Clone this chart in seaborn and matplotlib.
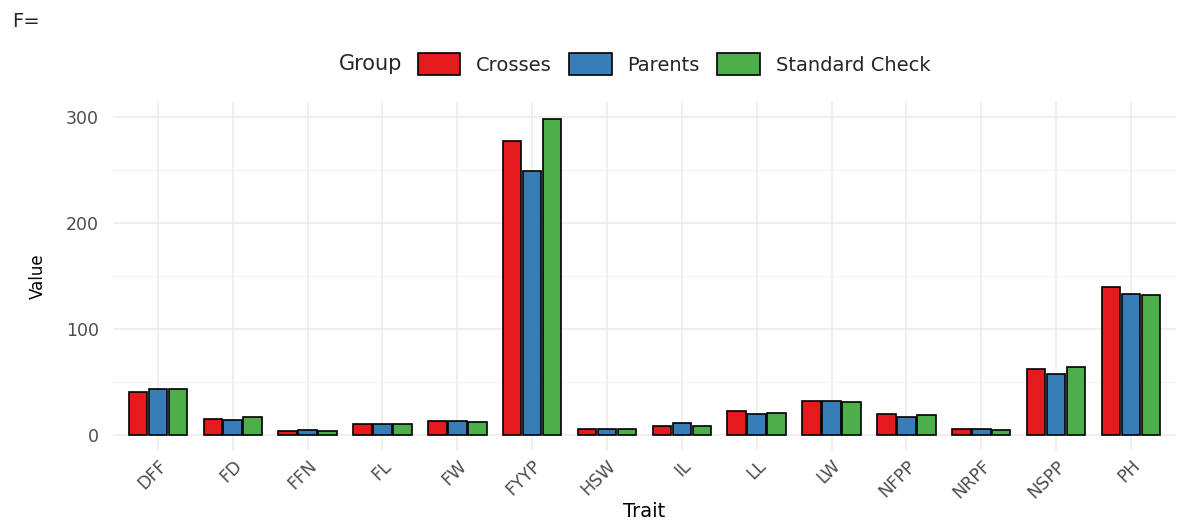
import pandas as pd
import matplotlib
matplotlib.use('Agg')
import matplotlib.pyplot as plt
from matplotlib.patches import Patch
import seaborn as sns

TRAITS = ['DFF', 'FD', 'FFN', 'FL', 'FW', 'FYYP', 'HSW', 'IL', 'LL', 'LW',
          'NFPP', 'NRPF', 'NSPP', 'PH']
GROUPS = ['Crosses', 'Parents', 'Standard Check']
CROSSES = [41, 15.7, 3.8, 10.4, 13.5, 277, 5.7, 9, 22.6, 32.4, 20.4, 5.7, 62.6, 139.5]
PARENTS = [43.5, 14.4, 4.7, 10.4, 13.5, 249.5, 5.7, 11.6, 20.4, 32.4, 17.6, 5.7, 58.1, 133]
CHECKS = [43.5, 17, 3.8, 10.4, 12.5, 298.5, 5.7, 9, 21.4, 31.4, 19.1, 4.7, 64.7, 132]
COLORS = ['#E41A1C', '#377EB8', '#4DAF4A']

df = pd.DataFrame({
    'Trait': TRAITS * 3,
    'Value': CROSSES + PARENTS + CHECKS,
    'Group': [g for g in GROUPS for _ in TRAITS],
})

sns.set_style('white')
plt.rcParams['font.family'] = ['DejaVu Sans']

fig = plt.figure(figsize=(11.77, 5.21), dpi=100)
ax = fig.add_axes([0.096, 0.134, 0.903, 0.670])

sns.barplot(data=df, x='Trait', y='Value', hue='Group', hue_order=GROUPS,
            order=TRAITS, palette=COLORS, saturation=1, width=0.8, gap=0.07,
            edgecolor='black', linewidth=1.2, errorbar=None, legend=False,
            ax=ax, zorder=3)

# ggplot-like minimal theme
ax.set_xlim(-0.6, len(TRAITS) - 0.4)
ax.set_ylim(-15, 314)
ax.set_yticks([0, 100, 200, 300])
ax.set_yticks([50, 150, 250], minor=True)
ax.grid(True, which='major', color='#ebebeb', linewidth=1.1, zorder=0)
ax.grid(True, which='minor', axis='y', color='#f2f2f2', linewidth=0.8, zorder=0)
ax.set_axisbelow(True)
for s in ax.spines.values():
    s.set_visible(False)
ax.tick_params(axis='both', which='both', length=0, colors='#4d4d4d', labelsize=12.5)
ax.tick_params(axis='y', pad=10)
ax.tick_params(axis='x', pad=4)
plt.setp(ax.get_xticklabels(), rotation=45, ha='right', rotation_mode='anchor')

ax.set_xlabel('Trait', fontsize=14, color='black', labelpad=0)
ax.set_ylabel('Value', fontsize=12, color='black', labelpad=14)

# legend on top, title at left
handles = [Patch(facecolor=c, edgecolor='black', linewidth=1.2) for c in COLORS]
fig.legend(handles, GROUPS, loc='center left', bbox_to_anchor=(0.340, 0.877),
           ncols=3, frameon=False, fontsize=14, handlelength=2.2,
           handleheight=1.35, handletextpad=0.8, columnspacing=0.9)
fig.text(0.3415, 0.877, 'Group', ha='right', va='center', fontsize=15)
fig.text(0.010, 0.958, 'F=', ha='left', va='center', fontsize=14,
         family='Liberation Sans Narrow')

fig.savefig('out.png', dpi=100, facecolor='white')
plt.close()
